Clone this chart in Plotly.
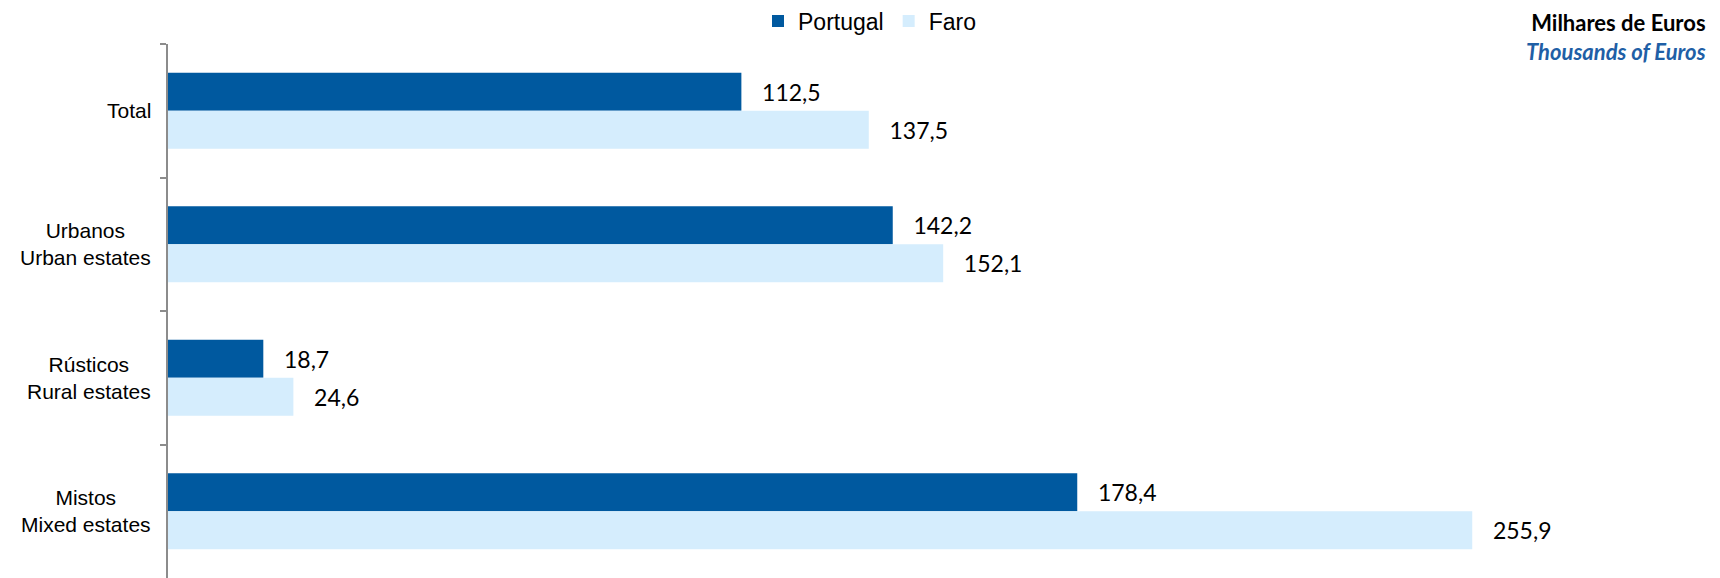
import plotly.graph_objects as go

categories = ["Total", "Urbanos<br>Urban estates", "Rústicos<br>Rural estates", "Mistos<br>Mixed estates"]
portugal = [112.5, 142.2, 18.7, 178.4]
faro = [137.5, 152.1, 24.6, 255.9]
series_names = ["Portugal", "Faro"]

C_PT = "#00599F"
C_FA = "#D5EDFD"
PAD = "\u00a0\u00a0\u00a0"

def lab(v):
    return PAD + f"{v:.1f}".replace(".", ",")

fig = go.Figure()
for name, vals, col in [(series_names[0], portugal, C_PT), (series_names[1], faro, C_FA)]:
    fig.add_trace(go.Bar(
        name=name, y=categories, x=vals, orientation="h",
        marker=dict(color=col, line=dict(width=0)),
        text=[lab(v) for v in vals], textposition="outside",
        textfont=dict(family="Lato", size=23, color="#000000"),
        constraintext="none", cliponaxis=False,
    ))

annotations = []
for c in categories:
    annotations.append(dict(
        x=0, xref="paper", y=c, yref="y", xanchor="right", yanchor="middle",
        xshift=-15, text=c, showarrow=False, align="center",
        font=dict(family="Liberation Sans, Arial", size=21, color="#000000"),
    ))
annotations.append(dict(
    x=1, xref="paper", y=1, yref="paper", xanchor="right", yanchor="middle",
    xshift=11, yshift=7, align="right", showarrow=False,
    text="<b>Milhares de Euros</b><br><b><i><span style='color:#1F5FA6'>Thousands of Euros</span></i></b>",
    font=dict(family="Lato", size=22, color="#000000"),
))

fig.update_layout(
    width=1720, height=578,
    margin=dict(l=168, r=23, t=44, b=0),
    paper_bgcolor="white", plot_bgcolor="white",
    barmode="group", bargap=0.43, bargroupgap=0,
    showlegend=True,
    legend=dict(
        orientation="h", xref="container", yref="container",
        x=758 / 1720, xanchor="left", y=1 - 21 / 578, yanchor="middle",
        font=dict(family="Liberation Sans, Arial", size=23, color="#000000"),
        bgcolor="rgba(0,0,0,0)", traceorder="normal",
    ),
    xaxis=dict(range=[0, 300], visible=False, fixedrange=True),
    yaxis=dict(
        type="category", autorange="reversed",
        showline=True, linecolor="#8C8C8C", linewidth=2,
        ticks="outside", tickson="boundaries", ticklen=6, tickcolor="#8C8C8C", tickwidth=2,
        showticklabels=False, showgrid=False, zeroline=False,
    ),
    annotations=annotations,
)

fig.write_html("out.html")
